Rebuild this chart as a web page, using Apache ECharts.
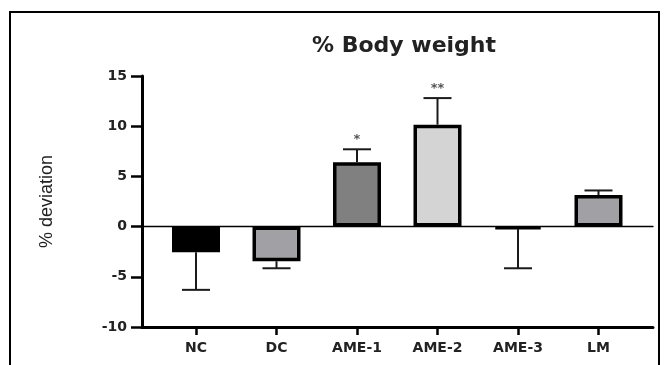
<!DOCTYPE html>
<html><head><meta charset="utf-8">
<script src="https://cdn.jsdelivr.net/npm/echarts@6/dist/echarts.min.js"></script>
<style>html,body{margin:0;padding:0;background:#fff}#c{width:665px;height:365px}</style>
</head><body><div id="c"></div>
<script>
const categories = ['NC', 'DC', 'AME-1', 'AME-2', 'AME-3', 'LM'];
const means = [-2.55, -3.45, 6.4, 10.15, -0.25, 3.15];
const errorEnds = [-6.3, -4.15, 7.7, 12.8, -4.15, 3.6];
const stars = ['', '', '*', '**', '', ''];
const barColors = ['#000000', '#a1a1a5', '#808080', '#d4d4d4', '#111111', '#a1a1a5'];
const yTicks = [-10, -5, 0, 5, 10, 15];

const chart = echarts.init(document.getElementById('c'), null, {renderer: 'canvas'});
const TOP = 76, BOTTOM = 38;
const boldFont = 'DejaVu Sans';

chart.setOption({
  animation: false,
  backgroundColor: '#fff',
  title: {
    text: '% Body weight', left: 307, top: 30,
    textStyle: {fontFamily: boldFont, fontWeight: 'bold', fontSize: 22, color: '#222'}
  },
  graphic: [{
    type: 'rect', shape: {x: 10, y: 12, width: 649, height: 370},
    style: {fill: 'none', stroke: '#000', lineWidth: 2}, silent: true
  }],
  grid: [
    {left: 155.75, width: 483, top: TOP, bottom: BOTTOM},
    {left: 142, right: 12, top: TOP, bottom: BOTTOM}
  ],
  xAxis: [
    {gridIndex: 0, type: 'category', data: categories, position: 'bottom',
     axisLine: {show: false, onZero: false},
     axisTick: {show: true, alignWithLabel: true, length: 8, lineStyle: {color: '#000', width: 2.5}},
     axisLabel: {margin: 14, fontFamily: boldFont, fontWeight: 'bold', fontSize: 14, color: '#222'}},
    {gridIndex: 1, type: 'value', min: 0, max: 1, position: 'bottom',
     axisLine: {show: true, onZero: false, lineStyle: {color: '#000', width: 3}},
     axisTick: {show: false}, axisLabel: {show: false}, splitLine: {show: false}},
    {gridIndex: 1, type: 'value', min: 0, max: 1,
     axisLine: {show: true, onZero: true, lineStyle: {color: '#000', width: 1.3}},
     axisTick: {show: false}, axisLabel: {show: false}, splitLine: {show: false}}
  ],
  yAxis: [
    {gridIndex: 0, type: 'value', min: yTicks[0], max: yTicks[yTicks.length - 1], interval: 5, show: false},
    {gridIndex: 1, type: 'value', min: yTicks[0], max: yTicks[yTicks.length - 1], interval: 5,
     name: '% deviation', nameLocation: 'middle', nameGap: 86, nameRotate: 90,
     nameTextStyle: {fontFamily: 'Liberation Sans', fontSize: 18, color: '#222'},
     axisLine: {show: true, onZero: false, lineStyle: {color: '#000', width: 3}},
     axisTick: {show: true, length: 11, lineStyle: {color: '#000', width: 2.5}},
     axisLabel: {margin: 15, fontFamily: boldFont, fontWeight: 'bold', fontSize: 14, color: '#222'},
     splitLine: {show: false}}
  ],
  series: [
    {type: 'bar', xAxisIndex: 0, yAxisIndex: 0, barWidth: 48,
     data: means.map((v, i) => ({value: v, itemStyle: {color: barColors[i]}})),
     itemStyle: {borderColor: '#000', borderWidth: 3.5}, z: 3},
    {type: 'custom', xAxisIndex: 0, yAxisIndex: 0, z: 4,
     data: categories.map((c, i) => [i, means[i], errorEnds[i]]),
     renderItem: function (params, api) {
       const i = api.value(0);
       const p0 = api.coord([i, api.value(1)]);
       const p1 = api.coord([i, api.value(2)]);
       const half = 14;
       const children = [
         {type: 'line', shape: {x1: p0[0], y1: p0[1], x2: p1[0], y2: p1[1]}, style: {stroke: '#1a1a1a', lineWidth: 2}},
         {type: 'line', shape: {x1: p1[0] - half, y1: p1[1], x2: p1[0] + half, y2: p1[1]}, style: {stroke: '#1a1a1a', lineWidth: 2}}
       ];
       const s = stars[params.dataIndex];
       if (s) {
         children.push({type: 'text', x: p1[0], y: p1[1] - 3,
           style: {text: s, fill: '#555', font: 'bold 13px ' + boldFont, textAlign: 'center', textVerticalAlign: 'bottom'}});
       }
       return {type: 'group', children: children};
     }}
  ]
});
</script></body></html>
